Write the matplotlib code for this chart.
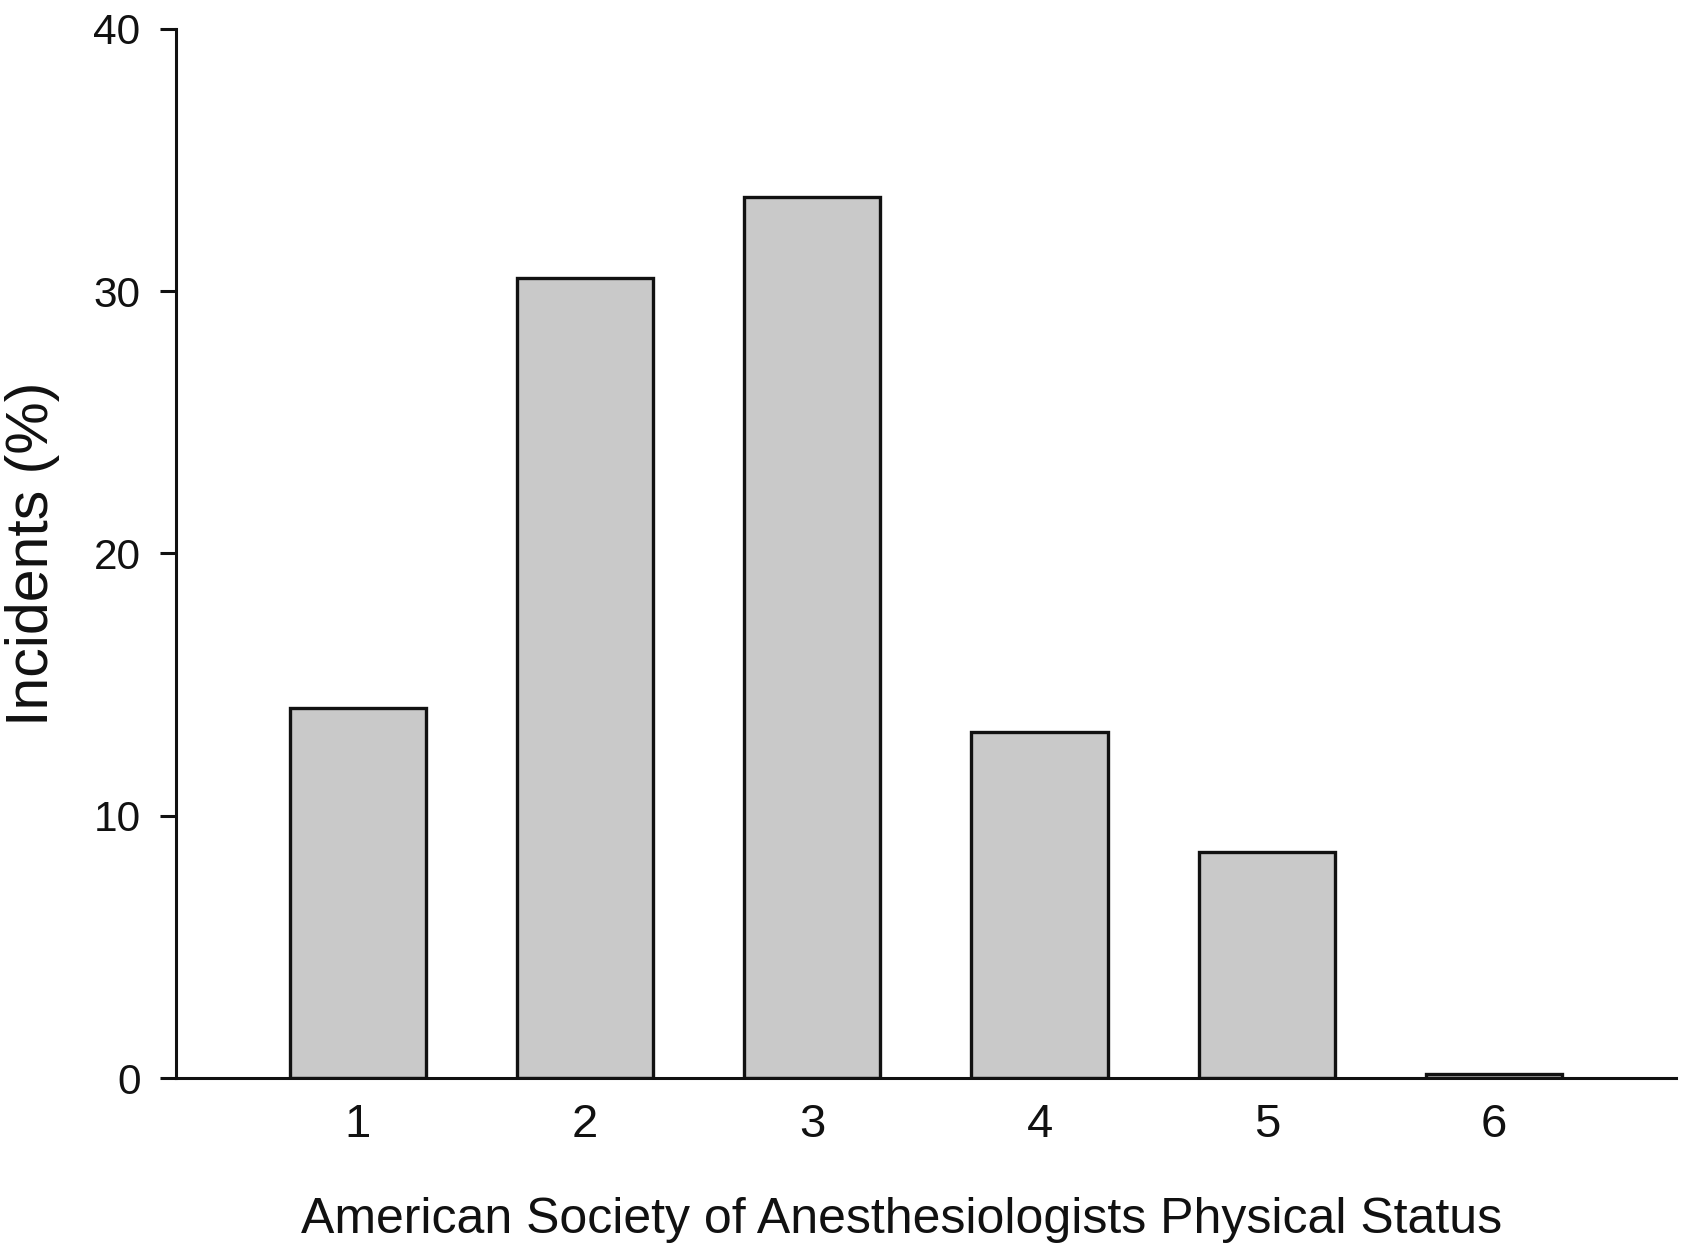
import matplotlib
matplotlib.use("Agg")
import matplotlib.pyplot as plt

categories = [1, 2, 3, 4, 5, 6]
incidents = [14.1, 30.5, 33.6, 13.2, 8.6, 0.15]
y_ticks = [0, 10, 20, 30, 40]

plt.rcParams['font.family'] = ['Liberation Sans', 'DejaVu Sans']

fig = plt.figure(figsize=(16.82, 12.49), dpi=100)
ax = fig.add_axes([0.1046, 0.1369, 0.8918, 0.8399])

ax.bar(categories, incidents, width=0.6, color='#c9c9c9', edgecolor='#111111', linewidth=2.4, zorder=2)

ax.set_xlim(0.2, 6.8)
ax.set_ylim(0, 40)
ax.set_yticks(y_ticks)
ax.set_xticks(categories)
ax.set_xticklabels([str(c) for c in categories])

for s in ['top', 'right']:
    ax.spines[s].set_visible(False)
for s in ['left', 'bottom']:
    ax.spines[s].set_linewidth(2.2)
    ax.spines[s].set_color('#111111')

ax.tick_params(axis='y', direction='out', length=11.5, width=2.2, labelsize=30.5, pad=14, colors='#111111')
ax.tick_params(axis='x', length=0, labelsize=34, pad=18, colors='#111111')

ax.set_ylabel('Incidents (%)', fontsize=42.5, color='#111111', labelpad=24)
ax.set_xlabel('American Society of Anesthesiologists Physical Status', fontsize=36, color='#111111', labelpad=36)
ax.xaxis.label.set_x(0.4835)

fig.savefig('out.png', dpi=100, facecolor='white')
